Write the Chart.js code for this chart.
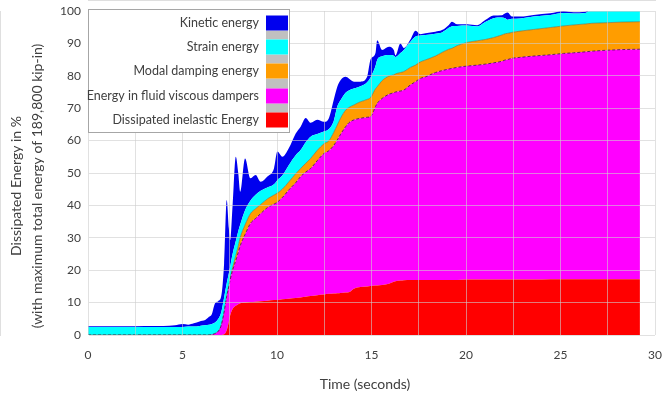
<!DOCTYPE html>
<html><head><meta charset="utf-8">
<script src="https://cdn.jsdelivr.net/npm/chart.js@4.4.0/dist/chart.umd.min.js"></script>
<style>html,body{margin:0;padding:0;background:#fff;}#wrap{width:663px;height:400px;position:relative;}</style>
</head><body><div id="wrap"><canvas id="c"></canvas></div>
<script>
// Time in seconds
const time = [0,1,2,3,4,4.6,5.0,5.3,5.6,5.9,6.2,6.4,6.55,6.7,6.9,7.05,7.2,7.34,7.45,7.52,7.65,7.82,7.95,8.05,8.31,8.6,8.87,9.14,9.49,9.84,10.02,10.28,10.63,10.99,11.25,11.52,11.78,12.13,12.48,12.75,13.0,13.19,13.37,13.63,13.8,14.07,14.42,14.77,14.95,15.21,15.3,15.56,15.92,16.18,16.27,16.53,16.71,17.06,17.33,17.59,17.86,18.38,18.73,19.09,19.26,19.53,20.06,20.59,21.02,21.46,21.9,22.08,22.2,22.43,22.87,23.58,24.46,25.16,25.69,26.31,26.66,27.5,28.3,29.2];
// Stacked components, % of max total energy
const inelastic = [0,0,0,0,0,0,0,0,0,0,0,0,0,0,0,0,0.2,1.5,4,6,8,9,9.5,9.8,10,10.2,10.3,10.4,10.6,10.8,10.8,11,11.2,11.4,11.6,11.8,12,12.3,12.5,12.7,12.8,12.9,13,13.1,13.2,14.3,14.8,15,15.1,15.3,15.3,15.4,15.8,16.4,16.6,16.8,16.9,17,17,17,17,17,17,17,17,17,17.1,17.1,17.1,17.1,17.1,17.1,17.1,17.1,17.1,17.1,17.2,17.2,17.2,17.2,17.2,17.2,17.2,17.2];
const dampers = [0,0,0,0,0,0,0,0,0,0,0,0,0.1,0.4,1.2,3,6.8,10.5,11,11,12,14,16,17.7,21,24.3,25.7,27.1,28.7,29.6,30.2,31.4,33.6,35.6,37.3,38.5,39.4,41.5,43.5,44.2,45.7,47.3,49,51.2,52.3,52.1,52.1,52.2,52.3,55.2,56.2,57.6,58.5,58.4,58.4,58.5,58.7,60.2,61.2,62.2,62.7,64,64.6,65.1,65.3,65.6,65.9,66.2,66.5,66.9,67.4,67.8,67.9,68.3,68.6,69,69.3,69.7,69.9,70.2,70.4,70.7,70.9,71];
const modal = [0,0,0,0,0,0,0,0,0,0,0,0,0,0,0,0,0,0,0,0.3,0.8,1.5,2,2.5,3,3,3,2.8,2.7,2.8,2.8,2.6,2.5,2.8,2.5,2.7,3.1,3.2,3,3.1,4,4.6,5,5.1,4.7,4.6,5.1,5.5,5.9,5.5,5.1,5.5,5.6,5.5,5.6,5.7,5.7,5.4,5.1,5.1,5.2,5.1,5.6,6.1,6.2,6.7,7.3,7.5,7.6,7.8,8.1,8.1,8.1,8,8.1,8.2,8.4,8.5,8.6,8.6,8.6,8.5,8.5,8.5];
const strain = [2.5,2.5,2.5,2.5,2.5,2.5,2.5,2.6,2.6,2.8,3.0,3.2,3.3,3.4,3.8,4,4.5,4,4,3.7,4.2,4.5,4.5,4,4.5,4,4.3,4.2,3.5,3.3,4,4.2,5.2,5.7,5.7,6.5,6.7,5,3.8,3.6,3.5,5.7,5.5,5.4,5.3,5.1,4.8,5.3,6.2,7,8.3,7.5,6.5,5.9,5.2,6,6.7,7.9,8.8,8.1,7.7,6.9,6.2,6.6,6.8,6.1,5.2,4.4,5.4,6,5.4,4.8,4.2,4.2,3.9,4,3.9,4,3.5,3.4,4.2,3.8,3.8,3.8];
const kinetic = [0.2,0.2,0.2,0.3,0.3,0.5,0.9,0.6,1.0,1.4,1.6,2.4,3.0,5.7,5.5,5,10.5,25.7,14,8.3,15,26,18,10.2,16,6.9,6.1,2.8,3.4,4.9,8.8,5.8,5.2,6.7,7.2,7.5,4.3,4.4,3,3.4,6.5,6.1,6.2,4.9,3.7,2.1,1.4,1.7,5.5,4,6.1,2,2.6,1.8,0.5,3,0.6,0.7,1.8,0.4,0.5,0.6,0.7,0.9,1.4,0.5,0.4,0.4,0.6,0.8,0.7,1.5,2.2,0.7,0.6,0.5,0.5,0.6,0.4,0.4,0.5,0.4,0.3,0.3];

const seriesNames = ['Dissipated inelastic Energy','Energy in fluid viscous dampers','Modal damping energy','Strain energy','Kinetic energy'];
const seriesValues = [inelastic, dampers, modal, strain, kinetic];
const seriesColors = ['#FF0000','#FF00FF','#FF9D00','#00FFFF','#0000EE'];
const xLabelStep = 5;
const yTitleLines = ['Dissipated Energy in %','(with maximum total energy of 189,800 kip-in)'];
const xTitleText = 'Time (seconds)';

const FONT = 'Lato, "Open Sans", sans-serif';
const TEXT = '#404040';

const datasets = seriesValues.map((vals, i) => ({
  label: seriesNames[i],
  data: vals.map((v, k) => ({x: time[k], y: v})),
  backgroundColor: seriesColors[i],
  borderColor: i === 1 ? 'rgba(70,30,70,0.85)' : (i === 2 ? 'rgba(90,110,80,0.6)' : 'rgba(0,0,0,0)'),
  borderWidth: (i === 1 || i === 2) ? 1 : 0,
  borderDash: i === 1 ? [3, 2] : [],
  fill: i === 0 ? 'origin' : '-1',
  pointRadius: 0,
  cubicInterpolationMode: 'monotone',
  clip: {left: 0, right: 0, top: 5, bottom: 0}
}));

const decor = {
  id: 'decor',
  afterDraw(chart) {
    const ctx = chart.ctx;
    ctx.save();
    ctx.fillStyle = TEXT;
    ctx.textAlign = 'center';
    ctx.textBaseline = 'middle';
    ctx.font = '14px ' + FONT;
    ctx.fillText(xTitleText, 365, 384);
    ctx.save();
    ctx.translate(16, 186);
    ctx.rotate(-Math.PI / 2);
    ctx.fillText(yTitleLines[0], 0, 0);
    ctx.restore();
    ctx.save();
    ctx.translate(37, 186);
    ctx.rotate(-Math.PI / 2);
    ctx.fillText(yTitleLines[1], 0, 0);
    ctx.restore();
    // legend
    const lx = 88.5, ly = 9.5, lw = 201, lh = 123;
    ctx.fillStyle = '#ffffff';
    ctx.fillRect(lx, ly, lw, lh);
    ctx.strokeStyle = '#a6a6a6';
    ctx.lineWidth = 1;
    ctx.strokeRect(lx, ly, lw, lh);
    const ds = chart.data.datasets.slice().reverse();
    const rows = [23, 47, 71, 96, 120];
    ctx.font = '12.5px ' + FONT;
    ctx.textAlign = 'right';
    const bx = 266, bw = 22, bh = 15;
    ctx.fillStyle = '#c0c0c0';
    for (let i = 0; i < rows.length - 1; i++) {
      const top = rows[i] + bh / 2, bot = rows[i + 1] - bh / 2;
      ctx.fillRect(bx, top, bw, bot - top);
    }
    ds.forEach((d, i) => {
      ctx.fillStyle = TEXT;
      ctx.fillText(d.label, 259, rows[i]);
      ctx.fillStyle = d.backgroundColor;
      ctx.fillRect(bx, rows[i] - bh / 2, bw, bh);
    });
    ctx.restore();
  }
};

new Chart(document.getElementById('c'), {
  type: 'line',
  data: {datasets},
  options: {
    responsive: true,
    maintainAspectRatio: false,
    animation: false,
    layout: {padding: {top: 11, right: 8, bottom: 0, left: 0}},
    plugins: {legend: {display: false}, tooltip: {enabled: false}},
    scales: {
      x: {
        type: 'linear', min: 0, max: 30,
        afterFit: s => { s.height = 65; s.paddingLeft = 0; s.paddingRight = 0; },
        grid: {color: 'rgba(205,205,205,0.6)', z: 1, drawTicks: false},
        border: {color: '#bfbfbf'},
        ticks: {stepSize: 2.5, autoSkip: false, maxRotation: 0, padding: 13, color: TEXT,
          font: {family: FONT, size: 12},
          callback: v => (Math.abs(v % xLabelStep) < 1e-6 ? v : '')}
      },
      y: {
        stacked: true, min: 0, max: 100,
        afterFit: s => { s.width = 88; s.paddingTop = 0; s.paddingBottom = 0; },
        grid: {color: 'rgba(205,205,205,0.6)', z: 1, drawTicks: false},
        border: {color: '#bfbfbf'},
        ticks: {stepSize: 10, padding: 7, color: TEXT, font: {family: FONT, size: 12}}
      }
    }
  },
  plugins: [decor]
});
</script></body></html>
